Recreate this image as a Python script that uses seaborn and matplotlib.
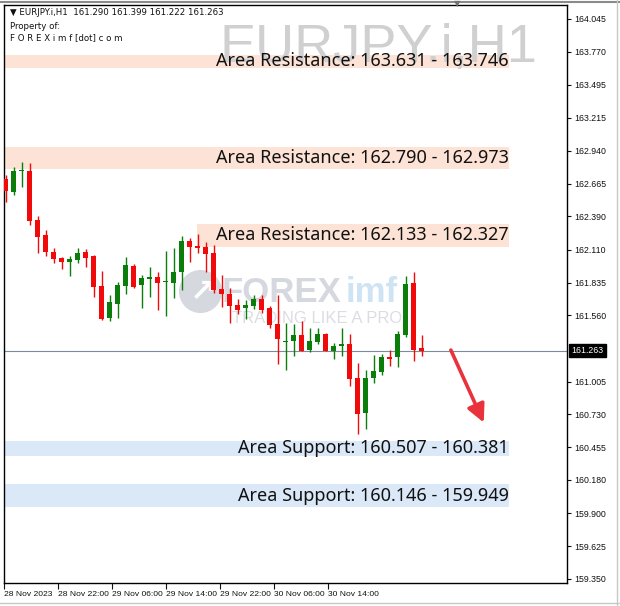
import numpy as np
import matplotlib
matplotlib.use("Agg")
import matplotlib.pyplot as plt
import seaborn as sns
from matplotlib.lines import Line2D

# hourly EURJPY.i candles (28 Nov 14:00 onwards)
opens = [162.701, 162.592, 162.768, 162.773, 162.360, 162.234, 162.094, 162.043, 162.010, 162.024,
         162.089, 162.058, 161.806, 161.535, 161.655, 161.806, 161.976, 161.815, 161.862, 161.879,
         161.836, 161.829, 161.921, 162.186, 162.142, 162.131, 162.080, 161.781, 161.739, 161.647,
         161.619, 161.641, 161.697, 161.619, 161.488, 161.339, 161.348, 161.395, 161.270, 161.339,
         161.404, 161.264, 161.303, 161.320, 161.032, 160.744, 161.032, 161.088, 161.213, 161.208,
         161.395, 161.834, 161.290]
highs = [162.737, 162.806, 162.848, 162.835, 162.393, 162.276, 162.122, 162.052, 162.058, 162.122,
         162.119, 162.066, 161.935, 161.731, 161.842, 162.052, 161.988, 161.898, 161.968, 161.926,
         162.102, 162.122, 162.225, 162.206, 162.242, 162.178, 162.150, 161.898, 161.787, 161.695,
         161.689, 161.731, 161.731, 161.639, 161.731, 161.494, 161.488, 161.515, 161.452, 161.452,
         161.410, 161.326, 161.452, 161.404, 161.163, 161.102, 161.228, 161.234, 161.270, 161.431,
         161.890, 161.926, 161.399]
lows = [162.513, 162.569, 162.639, 162.318, 162.080, 162.058, 161.997, 161.949, 161.890, 161.997,
        161.963, 161.717, 161.521, 161.515, 161.535, 161.739, 161.787, 161.622, 161.711, 161.605,
        161.557, 161.708, 161.773, 162.010, 162.080, 161.926, 161.750, 161.628, 161.494, 161.571,
        161.530, 161.611, 161.577, 161.452, 161.152, 161.102, 161.222, 161.260, 161.255, 161.320,
        161.258, 161.194, 161.222, 160.968, 160.565, 160.605, 160.990, 161.060, 161.135, 161.125,
        161.381, 161.180, 161.222]
closes = [162.605, 162.773, 162.779, 162.351, 162.220, 162.094, 162.033, 162.010, 162.035, 162.085,
          162.043, 161.800, 161.527, 161.670, 161.815, 161.982, 161.800, 161.871, 161.879, 161.829,
          161.844, 161.926, 162.186, 162.136, 162.122, 162.072, 161.773, 161.737, 161.641, 161.605,
          161.647, 161.697, 161.605, 161.479, 161.359, 161.348, 161.395, 161.264, 161.345, 161.404,
          161.264, 161.303, 161.320, 161.024, 160.733, 161.032, 161.094, 161.213, 161.197, 161.404,
          161.823, 161.270, 161.263]

resistance_zones = [(163.631, 163.746), (162.790, 162.973), (162.133, 162.327)]
support_zones = [(160.507, 160.381), (160.146, 159.949)]
current_price = 161.263

y_ticks = [164.045, 163.770, 163.495, 163.215, 162.940, 162.665, 162.390, 162.110, 161.835,
           161.560, 161.005, 160.730, 160.455, 160.180, 159.900, 159.625, 159.350]
x_tick_labels = ["28 Nov 2023", "28 Nov 22:00", "29 Nov 06:00", "29 Nov 14:00",
                 "29 Nov 22:00", "30 Nov 06:00", "30 Nov 14:00"]

sns.set_theme(style="white")
plt.rcParams["font.family"] = ["DejaVu Sans"]

fig = plt.figure(figsize=(6.2, 6.06), dpi=100)
ax = fig.add_axes([4 / 620, 1 - 583 / 606, 563 / 620, 578 / 606])

n = len(opens)
idx = np.arange(n)
o = np.array(opens); c = np.array(closes)
h = np.array(highs); l = np.array(lows)
up = c >= o
col_up, col_dn = "#0a7d0a", "#f00a0a"
colors = np.where(up, col_up, col_dn)

# zones
for lo, hi in resistance_zones[:2]:
    ax.axhspan(min(lo, hi), max(lo, hi), xmin=0, xmax=505 / 563, color="#fce3d6", lw=0, zorder=0)
lo, hi = resistance_zones[2]
ax.axhspan(lo, hi, xmin=193 / 563, xmax=505 / 563, color="#fce3d6", lw=0, zorder=0)
for lo, hi in support_zones:
    ax.axhspan(min(lo, hi), max(lo, hi), xmin=0, xmax=505 / 563, color="#dae8f7", lw=0, zorder=0)

# watermark logo
ax.plot([0.348], [0.505], marker="o", markersize=31, color="#c9ccd6", alpha=0.75,
        transform=ax.transAxes, zorder=1, mec="none")
ax.text(0.352, 0.503, "\u2197", transform=ax.transAxes, fontsize=22, color="white",
        ha="center", va="center", fontweight="bold", zorder=1)
ax.text(0.387, 0.503, "FOREX", transform=ax.transAxes, fontsize=25, fontweight="bold",
        color="#c7cbd5", ha="left", va="center", alpha=0.75, zorder=1, family="Liberation Sans")
ax.text(0.606, 0.503, "imf", transform=ax.transAxes, fontsize=25, fontweight="bold",
        color="#c6def2", ha="left", va="center", alpha=0.85, zorder=1, family="Liberation Sans")
ax.text(0.405, 0.458, "TRADING LIKE A PRO", transform=ax.transAxes, fontsize=12,
        color="#d3d5dc", ha="left", va="center", alpha=0.8, zorder=1, family="Liberation Sans")
ax.text(0.382, 0.901, "EURJPY.i,H1", transform=ax.transAxes, fontsize=39,
        color="#d0d0d0", ha="left", va="baseline", zorder=1, family="Liberation Sans")

# current price line
ax.axhline(current_price, color="#7d8c9c", lw=0.8, zorder=2)

# candles
ax.vlines(idx, l, h, colors=colors, lw=1.0, zorder=3)
body = np.maximum(np.abs(c - o), 0.004)
ax.bar(idx, body, bottom=np.minimum(o, c), width=0.6, color=colors, lw=0, zorder=4)

# zone labels
label_x = (509 - 5.7) / 8
for lo, hi in resistance_zones:
    ax.text(label_x, (lo + hi) / 2, f"Area Resistance: {lo:.3f} - {hi:.3f}", ha="right",
            va="center", fontsize=13, color="#111111", family="Noto Sans", zorder=5)
for a, b in support_zones:
    ax.text(label_x, (a + b) / 2, f"Area Support: {a:.3f} - {b:.3f}", ha="right",
            va="center", fontsize=13, color="#111111", family="Noto Sans", zorder=5)

# arrow
ax.annotate("", xy=(59.9, 160.64), xytext=(55.5, 161.29),
            arrowprops=dict(arrowstyle="-|>,head_length=0.9,head_width=0.45",
                            color="#e8323c", lw=2.6), zorder=6)

# header text
hdr = dict(transform=ax.transAxes, fontsize=6.2, ha="left", va="center", color="#111111")
ax.text(0.0107, 0.9875, "\u25BC EURJPY.i,H1  161.290 161.399 161.222 161.263", **hdr)
ax.text(0.0107, 0.9635, "Property of:", **hdr)
ax.text(0.0107, 0.944, "F O R E X i m f [dot] c o m", **hdr)

# axes
ax.set_xlim((4 - 5.7) / 8, (567 - 5.7) / 8)
ax.set_ylim(159.316, 164.162)
ax.yaxis.tick_right()
ax.set_yticks(y_ticks)
ax.set_yticklabels([f"{v:.3f}" for v in y_ticks], family="Liberation Sans")
tick_pos = (np.array([4, 58, 112, 166, 220, 274, 328]) - 5.7) / 8
ax.set_xticks(tick_pos)
ax.set_xticklabels(x_tick_labels, ha="left", family="Liberation Sans")
ax.tick_params(axis="y", direction="out", length=3, width=0.8, pad=2, labelsize=6.3,
               colors="#111111", right=True, left=False)
ax.tick_params(axis="x", direction="out", length=4, width=0.8, pad=2, labelsize=6.1,
               colors="#111111", bottom=True)
for s in ax.spines.values():
    s.set_color("black")
    s.set_linewidth(1.0)

# current price tag
ax.text(1.008, (current_price - 159.316) / (164.162 - 159.316), f"{current_price:.3f}",
        transform=ax.transAxes, fontsize=6.3, color="white", ha="left", va="center",
        family="Liberation Sans",
        bbox=dict(boxstyle="square,pad=0.25", fc="black", ec="black"))

# window frame and chart-shift marker
fig.add_artist(Line2D([0, 1], [0.9975, 0.9975], color="#8a8a8a", lw=1.5))
fig.add_artist(Line2D([617 / 620, 617 / 620], [0, 1], color="#c8c8c8", lw=1.0))
fig.add_artist(Line2D([0, 1], [3 / 606, 3 / 606], color="#c8c8c8", lw=1.0))
fig.text(457 / 620, 1 - 4 / 606, "\u25BC", fontsize=6, color="#707070", ha="center", va="center")

fig.savefig("out.png", dpi=100, facecolor="white")
